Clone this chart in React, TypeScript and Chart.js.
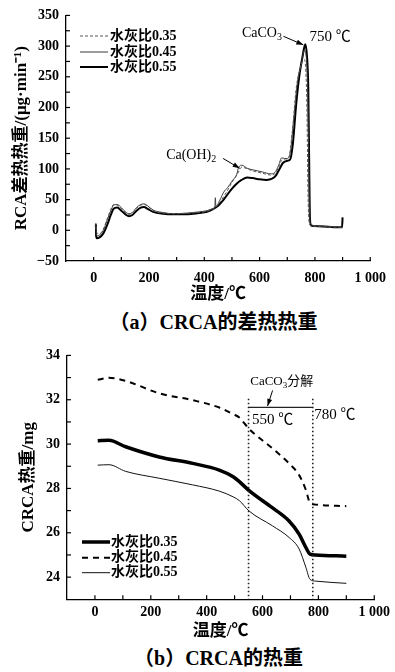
import React, { useEffect, useRef } from 'react';
import { Chart, registerables } from 'chart.js';
Chart.register(...registerables);

const SERIES_NAMES = ['水灰比0.35', '水灰比0.45', '水灰比0.55'];

// (a) differential thermal curves
const DTA_T_035 = [8, 12, 20, 35, 50, 62, 72, 85, 100, 115, 128, 140, 155, 170, 182, 195, 215, 250, 290, 340, 380, 410, 430, 455, 480, 500, 520, 536, 555, 580, 610, 640, 655, 668, 680, 692, 705, 718, 732, 745, 755, 762, 767, 771, 775, 780, 790, 820, 870, 898];
const DTA_V_035 = [6, -4, -6, 2, 20, 34, 42, 41, 36, 29, 26, 28, 36, 41, 42, 39, 32, 28, 27, 28, 29, 31, 34, 45, 62, 78, 92, 103, 100, 96, 93, 90, 92, 102, 114, 116, 118, 160, 230, 262, 275, 278, 260, 200, 60, 10, 7, 6, 5, 5];

const DTA_T_045 = [8, 10, 13, 20, 35, 50, 62, 72, 85, 100, 115, 128, 140, 155, 170, 182, 195, 215, 250, 290, 340, 380, 410, 430, 438, 440, 442, 455, 470, 485, 500, 520, 522, 536, 555, 580, 610, 640, 655, 668, 680, 690, 700, 712, 722, 738, 750, 762, 768, 773, 777, 780, 784, 790, 820, 870, 898];
const DTA_V_045 = [12, -6, -9, -8, 0, 18, 32, 41, 42, 37, 30, 27, 29, 37, 42, 43, 40, 33, 29, 27, 28, 30, 32, 35, 37, 53, 38, 48, 62, 70, 80, 95, 100, 106, 101, 98, 95, 92, 94, 105, 118, 117, 117, 130, 175, 245, 268, 293, 285, 240, 140, 40, 12, 8, 7, 6, 5];

const DTA_T_055 = [8, 9, 12, 20, 35, 50, 62, 72, 85, 100, 115, 128, 140, 155, 170, 182, 195, 215, 250, 290, 340, 380, 410, 430, 450, 470, 495, 515, 535, 555, 575, 600, 625, 645, 660, 672, 685, 698, 710, 720, 732, 744, 756, 765, 771, 776, 779, 782, 786, 795, 830, 870, 898, 900];
const DTA_V_055 = [10, -10, -13, -12, -5, 10, 25, 35, 37, 32, 26, 23, 25, 32, 37, 38, 35, 30, 27, 26, 26, 28, 30, 34, 40, 50, 65, 75, 82, 86, 85, 83, 82, 84, 90, 100, 110, 113, 115, 140, 204, 253, 285, 303, 285, 230, 120, 20, 8, 7, 6, 5, 5, 21];

const DTA_X_TICKS = [0, 200, 400, 600, 800, 1000];
const DTA_X_MINOR = [0, 100, 200, 300, 400, 500, 600, 700, 800, 900, 1000];
const DTA_Y_TICKS = [-50, 0, 50, 100, 150, 200, 250, 300, 350];
const DTA_Y_MINOR = [-25, 0, 25, 50, 75, 100, 125, 150, 175, 200, 225, 250, 275, 300, 325, 350];

// (b) thermogravimetric curves
const TG_T = [10, 50, 110, 230, 350, 445, 495, 517, 552, 636, 695, 731, 755, 770, 790, 900];
const TG_V_035 = [30.15, 30.17, 29.88, 29.42, 29.13, 28.83, 28.53, 28.31, 27.9, 27.12, 26.53, 25.94, 25.34, 25.04, 25.0, 24.94];
const TG_V_045 = [32.9, 32.99, 32.85, 32.29, 31.98, 31.65, 31.35, 31.2, 30.68, 29.8, 29.13, 28.6, 27.94, 27.35, 27.27, 27.2];
const TG_V_055 = [29.05, 29.07, 28.77, 28.46, 28.16, 27.88, 27.62, 27.45, 26.98, 26.31, 25.79, 25.27, 24.45, 23.9, 23.82, 23.72];

const TG_X_TICKS = [0, 200, 400, 600, 800, 1000];
const TG_X_MINOR = [0, 100, 200, 300, 400, 500, 600, 700, 800, 900, 1000];
const TG_Y_TICKS = [24, 26, 28, 30, 32, 34];
const TG_Y_MINOR = [24, 25, 26, 27, 28, 29, 30, 31, 32, 33, 34];

const FAMILY = '"Liberation Serif", "Noto Sans CJK SC", serif';
const tickFont = { family: FAMILY, size: 14, weight: 'bold' as const };
const titleFont = { family: FAMILY, size: 17, weight: 'bold' as const };

const pts = (t: number[], v: number[]) => t.map((x, i) => ({ x, y: v[i] }));
const fmtX = (v: any) => (Number(v) === 1000 ? '1 000' : String(v));
const fmtY = (v: any) => String(v).replace('-', '−');

function inwardTicks(xs: number[], ys: number[], len: number) {
  return {
    id: 'inwardTicks',
    afterDraw(chart: any) {
      const { ctx, chartArea, scales } = chart;
      ctx.save();
      ctx.strokeStyle = '#000';
      ctx.lineWidth = 1.2;
      for (const v of xs) {
        const px = scales.x.getPixelForValue(v);
        ctx.beginPath();
        ctx.moveTo(px, chartArea.bottom);
        ctx.lineTo(px, chartArea.bottom - len);
        ctx.stroke();
      }
      for (const v of ys) {
        const py = scales.y.getPixelForValue(v);
        ctx.beginPath();
        ctx.moveTo(chartArea.left, py);
        ctx.lineTo(chartArea.left + len, py);
        ctx.stroke();
      }
      ctx.restore();
    },
  };
}

function customLegend(x0: number, x1: number, tx: number, ys: number[]) {
  return {
    id: 'customLegend',
    afterDraw(chart: any) {
      const { ctx } = chart;
      ctx.save();
      chart.data.datasets.forEach((ds: any, i: number) => {
        const y = ys[i];
        ctx.strokeStyle = ds.borderColor;
        ctx.lineWidth = ds.borderWidth;
        ctx.setLineDash(ds.borderDash || []);
        ctx.beginPath();
        ctx.moveTo(x0, y);
        ctx.lineTo(x1, y);
        ctx.stroke();
        ctx.setLineDash([]);
        ctx.fillStyle = '#000';
        ctx.font = `bold 14px ${FAMILY}`;
        ctx.textBaseline = 'middle';
        ctx.textAlign = 'left';
        ctx.fillText(ds.label, tx, y);
      });
      ctx.restore();
    },
  };
}

type Part = { t: string; sub?: boolean };
type Note =
  | { kind: 'text'; x: number; y: number; parts: Part[]; size: number; bold: boolean }
  | { kind: 'arrow'; x1: number; y1: number; x2: number; y2: number }
  | { kind: 'line'; x1: number; y1: number; x2: number; y2: number; dash: number[]; width: number };

function notesPlugin(items: Note[]) {
  return {
    id: 'notes',
    afterDraw(chart: any) {
      const { ctx, scales } = chart;
      const X = (v: number) => scales.x.getPixelForValue(v);
      const Y = (v: number) => scales.y.getPixelForValue(v);
      ctx.save();
      for (const it of items) {
        if (it.kind === 'text') {
          let cx = X(it.x);
          const cy = Y(it.y);
          ctx.fillStyle = '#000';
          ctx.textBaseline = 'middle';
          ctx.textAlign = 'left';
          for (const p of it.parts) {
            const size = p.sub ? Math.round(it.size * 0.72) : it.size;
            ctx.font = `${it.bold ? 'bold ' : ''}${size}px ${FAMILY}`;
            ctx.fillText(p.t, cx, p.sub ? cy + it.size * 0.32 : cy);
            cx += ctx.measureText(p.t).width;
          }
        } else if (it.kind === 'arrow') {
          const x1 = X(it.x1), y1 = Y(it.y1), x2 = X(it.x2), y2 = Y(it.y2);
          ctx.strokeStyle = '#000';
          ctx.lineWidth = 1;
          ctx.beginPath();
          ctx.moveTo(x1, y1);
          ctx.lineTo(x2, y2);
          ctx.stroke();
          const a = Math.atan2(y2 - y1, x2 - x1);
          const L = 7, W = 2.5;
          ctx.fillStyle = '#000';
          ctx.beginPath();
          ctx.moveTo(x2, y2);
          ctx.lineTo(x2 - L * Math.cos(a) + W * Math.sin(a), y2 - L * Math.sin(a) - W * Math.cos(a));
          ctx.lineTo(x2 - L * Math.cos(a) - W * Math.sin(a), y2 - L * Math.sin(a) + W * Math.cos(a));
          ctx.closePath();
          ctx.fill();
        } else {
          ctx.strokeStyle = '#222';
          ctx.lineWidth = it.width;
          ctx.setLineDash(it.dash);
          ctx.beginPath();
          ctx.moveTo(X(it.x1), Y(it.y1));
          ctx.lineTo(X(it.x2), Y(it.y2));
          ctx.stroke();
          ctx.setLineDash([]);
        }
      }
      ctx.restore();
    },
  };
}

const DTA_NOTES: Note[] = [
  { kind: 'text', x: 536, y: 321, parts: [{ t: 'CaCO' }, { t: '3', sub: true }], size: 14, bold: false },
  { kind: 'arrow', x1: 686, y1: 316, x2: 758, y2: 302 },
  { kind: 'text', x: 780, y: 315, parts: [{ t: '750 ℃' }], size: 15, bold: false },
  { kind: 'text', x: 262, y: 122, parts: [{ t: 'Ca(OH)' }, { t: '2', sub: true }], size: 14, bold: false },
  { kind: 'arrow', x1: 468, y1: 117, x2: 528, y2: 101 },
];

const TG_NOTES: Note[] = [
  { kind: 'line', x1: 550, y1: 32.05, x2: 550, y2: 23, dash: [1.5, 2.5], width: 1.6 },
  { kind: 'line', x1: 780, y1: 32.05, x2: 780, y2: 23, dash: [1.5, 2.5], width: 1.6 },
  { kind: 'line', x1: 550, y1: 31.66, x2: 780, y2: 31.66, dash: [], width: 1.2 },
  { kind: 'text', x: 556, y: 32.84, parts: [{ t: 'CaCO' }, { t: '3', sub: true }, { t: '分解' }], size: 13, bold: false },
  { kind: 'arrow', x1: 636, y1: 32.42, x2: 618, y2: 31.72 },
  { kind: 'text', x: 562, y: 31.1, parts: [{ t: '550 ℃' }], size: 15, bold: false },
  { kind: 'text', x: 785, y: 31.3, parts: [{ t: '780 ℃' }], size: 15, bold: false },
];

function baseScales(opts: {
  xTicks: number[]; yTicks: number[]; yMin: number; yMax: number;
  xH: number; yW: number; xPad: number; xTitlePad: number; yTitle: string; yTitlePad: number;
}) {
  return {
    x: {
      type: 'linear',
      min: -100,
      max: 1000,
      afterBuildTicks: (s: any) => { s.ticks = opts.xTicks.map((v) => ({ value: v })); },
      afterFit: (s: any) => { s.height = opts.xH; },
      grid: { display: false, drawTicks: false },
      border: { display: true, color: '#000', width: 1.3 },
      ticks: { padding: opts.xPad, color: '#000', font: tickFont, callback: fmtX, autoSkip: false, maxRotation: 0 },
      title: { display: true, text: '温度/℃', color: '#000', font: titleFont, padding: { top: 0, bottom: opts.xTitlePad } },
    },
    y: {
      type: 'linear',
      min: opts.yMin,
      max: opts.yMax,
      afterBuildTicks: (s: any) => { s.ticks = opts.yTicks.map((v) => ({ value: v })); },
      afterFit: (s: any) => { s.width = opts.yW; },
      grid: { display: false, drawTicks: false },
      border: { display: true, color: '#000', width: 1.3 },
      ticks: { padding: 7, color: '#000', font: tickFont, callback: fmtY, autoSkip: false },
      title: { display: true, text: opts.yTitle, color: '#000', font: titleFont, padding: { top: opts.yTitlePad, bottom: 0 } },
    },
  };
}

export default function App() {
  const refA = useRef<HTMLCanvasElement>(null);
  const refB = useRef<HTMLCanvasElement>(null);

  useEffect(() => {
    Chart.defaults.color = '#000';
    const common = {
      responsive: false,
      animation: false as const,
      plugins: { legend: { display: false }, tooltip: { enabled: false } },
      elements: { point: { radius: 0 }, line: { cubicInterpolationMode: 'monotone' as const } },
    };

    const chartA = new Chart(refA.current!, {
      type: 'line',
      data: {
        datasets: [
          { label: SERIES_NAMES[0], data: pts(DTA_T_035, DTA_V_035), borderColor: '#555', borderWidth: 1, borderDash: [3, 2], fill: false },
          { label: SERIES_NAMES[1], data: pts(DTA_T_045, DTA_V_045), borderColor: '#3a3a3a', borderWidth: 1, fill: false },
          { label: SERIES_NAMES[2], data: pts(DTA_T_055, DTA_V_055), borderColor: '#000', borderWidth: 2, fill: false },
        ],
      },
      options: {
        ...common,
        layout: { padding: { top: 13, right: 19, left: 0, bottom: 0 } },
        scales: baseScales({
          xTicks: DTA_X_TICKS, yTicks: DTA_Y_TICKS, yMin: -50, yMax: 350,
          xH: 49, yW: 66, xPad: 9, xTitlePad: 4.8, yTitle: 'RCA差热热重/(μg·min⁻¹)', yTitlePad: 11.3,
        }) as any,
      },
      plugins: [inwardTicks(DTA_X_MINOR, DTA_Y_MINOR, 4), customLegend(80, 108, 110, [36, 52, 67]), notesPlugin(DTA_NOTES)],
    } as any);

    const chartB = new Chart(refB.current!, {
      type: 'line',
      data: {
        datasets: [
          { label: SERIES_NAMES[0], data: pts(TG_T, TG_V_035), borderColor: '#000', borderWidth: 3.5, fill: false },
          { label: SERIES_NAMES[1], data: pts(TG_T, TG_V_045), borderColor: '#000', borderWidth: 2, borderDash: [6, 5], fill: false },
          { label: SERIES_NAMES[2], data: pts(TG_T, TG_V_055), borderColor: '#111', borderWidth: 1, fill: false },
        ],
      },
      options: {
        ...common,
        layout: { padding: { top: 12.7, right: 19, left: 0, bottom: 0 } },
        scales: baseScales({
          xTicks: TG_X_TICKS, yTicks: TG_Y_TICKS, yMin: 23, yMax: 34,
          xH: 46.7, yW: 67, xPad: 5, xTitlePad: 4.1, yTitle: 'CRCA热重/mg', yTitlePad: 18.8,
        }) as any,
      },
      plugins: [inwardTicks(TG_X_MINOR, TG_Y_MINOR, 4), customLegend(82, 110, 111, [202, 217.7, 232.7]), notesPlugin(TG_NOTES)],
    } as any);

    return () => {
      chartA.destroy();
      chartB.destroy();
    };
  }, []);

  const caption: React.CSSProperties = {
    position: 'absolute',
    width: 300,
    textAlign: 'center',
    fontFamily: FAMILY,
    fontWeight: 'bold',
    fontSize: 20,
    lineHeight: '24px',
    whiteSpace: 'nowrap',
    color: '#000',
  };

  return (
    <div style={{ position: 'fixed', left: 0, top: 0, width: 395, height: 672, background: '#fff', overflow: 'hidden' }}>
      <canvas ref={refA} width={395} height={310} style={{ position: 'absolute', left: 0, top: 0, display: 'block' }} />
      <div style={{ ...caption, left: 63.5, top: 310 }}>（a）CRCA的差热热重</div>
      <canvas ref={refB} width={395} height={306} style={{ position: 'absolute', left: 0, top: 340, display: 'block' }} />
      <div style={{ ...caption, left: 68.5, top: 646 }}>（b）CRCA的热重</div>
    </div>
  );
}
